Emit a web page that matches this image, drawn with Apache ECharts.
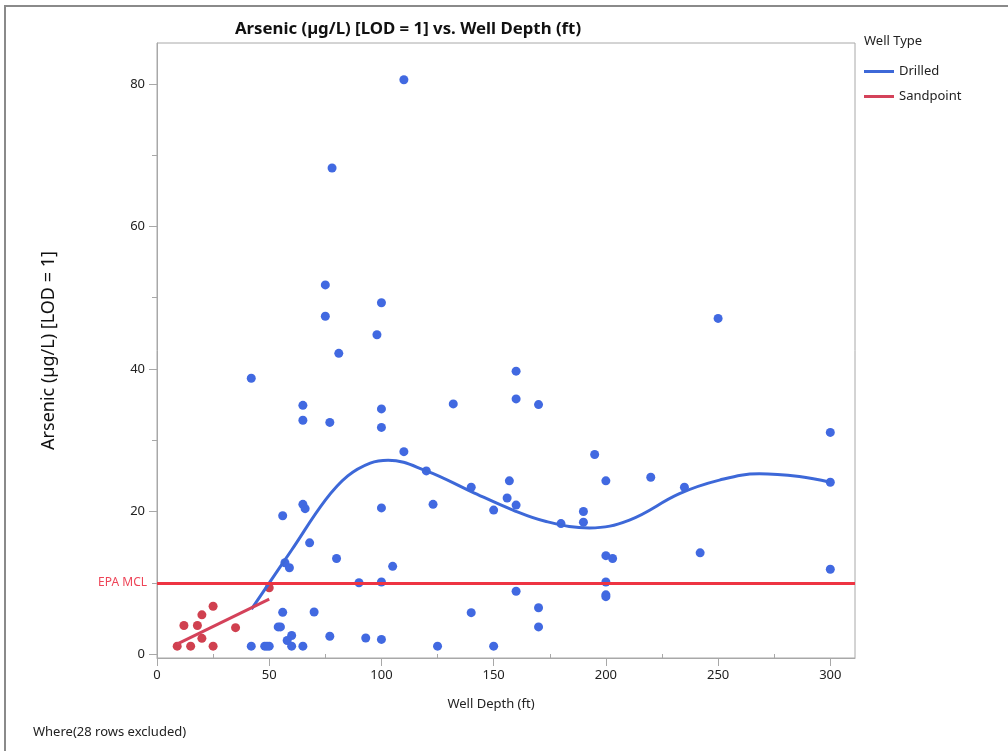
<!DOCTYPE html>
<html>
<head>
<meta charset="utf-8">
<script src="https://cdn.jsdelivr.net/npm/echarts@6/dist/echarts.min.js"></script>
<style>
  html, body { margin: 0; padding: 0; background: #fff; }
  #chart { width: 1008px; height: 751px; }
</style>
</head>
<body>
<div id="chart"></div>
<script>
// Drilled wells (blue points)
var drilledDepth = [110, 78, 75, 100, 75, 98, 81, 42, 65, 132,
  100, 65, 77, 100, 110, 120, 140, 65, 66, 100,
  123, 150, 56, 68, 80, 105, 57, 59, 90, 100,
  56, 70, 140, 54, 55, 60, 58, 77, 93, 100,
  42, 48, 49, 50, 60, 65, 125, 150,
  250, 160, 160, 170, 300, 195, 200, 220, 235, 300,
  157, 156, 160, 180, 190, 190, 200, 203, 242, 300,
  200, 200, 200, 160, 170, 170];
var drilledArsenic = [80.6, 68.2, 51.8, 49.3, 47.4, 44.8, 42.2, 38.7, 34.9, 35.1,
  34.4, 32.8, 32.5, 31.8, 28.4, 25.7, 23.4, 21.0, 20.4, 20.5,
  21.0, 20.2, 19.4, 15.6, 13.4, 12.3, 12.8, 12.1, 10.0, 10.1,
  5.85, 5.9, 5.8, 3.8, 3.8, 2.6, 1.9, 2.5, 2.25, 2.05,
  1.1, 1.1, 1.1, 1.1, 1.1, 1.1, 1.1, 1.1,
  47.1, 39.7, 35.8, 35.0, 31.1, 28.0, 24.3, 24.8, 23.4, 24.1,
  24.3, 21.9, 20.9, 18.3, 20.0, 18.5, 13.8, 13.4, 14.2, 11.9,
  10.1, 8.3, 8.05, 8.8, 6.5, 3.8];

// Sandpoint wells (red points)
var sandDepth = [9, 15, 25, 20, 12, 18, 20, 25, 35, 50];
var sandArsenic = [1.1, 1.1, 1.1, 2.2, 4.0, 4.0, 5.5, 6.7, 3.7, 9.3];

// smoother fits
var drilledFitX = [42.1, 60, 75, 85, 95, 103, 120, 140, 158.6, 173.4, 192.7, 210.5, 232.8, 250.6, 268.4, 286.2, 300];
var drilledFitY = [6.3, 14.6, 21.6, 25.0, 26.8, 27.2, 25.7, 22.8, 20.2, 18.6, 17.7, 18.8, 22.5, 24.4, 25.3, 24.9, 24.1];
var sandFitX = [8.9, 50];
var sandFitY = [1.4, 7.7];

// EPA limit
var mcl = 10;

var xMajor = [0, 50, 100, 150, 200, 250, 300];
var xMinor = [25, 75, 125, 175, 225, 275];
var yMajor = [0, 20, 40, 60, 80];
var yMinor = [10, 30, 50, 70];

var FONT = '"Noto Sans", sans-serif';
var BLUE = '#4169e1';
var RED = '#d0404f';

function pairs(xs, ys) {
  return xs.map(function (x, i) { return [x, ys[i]]; });
}

var xRange = { min: 0, max: 311 };
var yRange = { min: -0.56, max: 85.75 };

var myChart = echarts.init(document.getElementById('chart'));
var option = {
  backgroundColor: '#fff',
  animation: false,
  textStyle: { fontFamily: FONT },
  grid: {
    left: 157, right: 153, top: 43, bottom: 93,
    show: true, borderColor: '#a8a8a8', borderWidth: 1
  },
  legend: {
    orient: 'vertical',
    left: 864, top: 65, padding: 0,
    itemWidth: 30, itemHeight: 3, itemGap: 12,
    selectedMode: false,
    textStyle: { fontSize: 13, color: '#222', fontFamily: FONT },
    data: [{ name: 'Drilled', icon: 'rect' }, { name: 'Sandpoint', icon: 'rect' }]
  },
  xAxis: [{
    type: 'value', min: xRange.min, max: xRange.max,
    axisLine: { onZero: false, lineStyle: { color: '#a8a8a8' } },
    axisTick: { length: 8, lineStyle: { color: '#a8a8a8' }, customValues: xMajor },
    axisLabel: { customValues: xMajor, fontSize: 13, color: '#222', margin: 11 },
    splitLine: { show: false }
  }, {
    type: 'value', min: xRange.min, max: xRange.max, position: 'bottom',
    axisLine: { show: false },
    axisTick: { length: 5, lineStyle: { color: '#a8a8a8' }, customValues: xMinor },
    axisLabel: { show: false },
    splitLine: { show: false }
  }],
  yAxis: [{
    type: 'value', min: yRange.min, max: yRange.max,
    name: 'Arsenic (µg/L) [LOD = 1]',
    nameLocation: 'middle', nameGap: 99, nameRotate: 90,
    nameTextStyle: { fontSize: 18, color: '#111' },
    axisLine: { onZero: false, lineStyle: { color: '#a8a8a8' } },
    axisTick: { length: 8, lineStyle: { color: '#a8a8a8' }, customValues: yMajor },
    axisLabel: { customValues: yMajor, fontSize: 13, color: '#222', margin: 12 },
    splitLine: { show: false }
  }, {
    type: 'value', min: yRange.min, max: yRange.max, position: 'left',
    axisLine: { show: false },
    axisTick: { length: 5, lineStyle: { color: '#a8a8a8' }, customValues: yMinor },
    axisLabel: { show: false },
    splitLine: { show: false }
  }],
  graphic: [
    { type: 'rect', shape: { x: 5, y: 6, width: 1200, height: 900 },
      style: { fill: 'none', stroke: '#8a8a8a', lineWidth: 2 }, silent: true },
    { type: 'text', x: 408, y: 29,
      style: { text: 'Arsenic (µg/L) [LOD = 1] vs. Well Depth (ft)', align: 'center', verticalAlign: 'middle',
        fontSize: 16.8, fontWeight: 'bold', fontFamily: FONT, fill: '#111' } },
    { type: 'text', x: 864, y: 41,
      style: { text: 'Well Type', align: 'left', verticalAlign: 'middle',
        fontSize: 13, fontFamily: FONT, fill: '#222' } },
    { type: 'text', x: 491, y: 704,
      style: { text: 'Well Depth (ft)', align: 'center', verticalAlign: 'middle',
        fontSize: 13, fontFamily: FONT, fill: '#222' } },
    { type: 'text', x: 33, y: 732,
      style: { text: 'Where(28 rows excluded)', align: 'left', verticalAlign: 'middle',
        fontSize: 13, fontFamily: FONT, fill: '#222' } }
  ],
  series: [
    {
      name: 'Drilled points', type: 'scatter',
      symbolSize: 9, itemStyle: { color: BLUE, opacity: 1 },
      data: pairs(drilledDepth, drilledArsenic), z: 3
    },
    {
      name: 'Sandpoint points', type: 'scatter',
      symbolSize: 9, itemStyle: { color: RED, opacity: 1 },
      data: pairs(sandDepth, sandArsenic), z: 3,
      markLine: {
        silent: true, symbol: 'none',
        lineStyle: { color: '#ee3442', width: 3, type: 'solid' },
        label: { show: true, position: 'start', formatter: 'EPA MCL', color: '#ee4457',
          fontSize: 12, fontFamily: FONT, distance: 10 },
        data: [{ yAxis: mcl }]
      }
    },
    {
      name: 'Drilled', type: 'line', smooth: 0.4, showSymbol: false,
      lineStyle: { color: '#3d68d8', width: 3 }, itemStyle: { color: '#3d68d8' },
      data: pairs(drilledFitX, drilledFitY), z: 4
    },
    {
      name: 'Sandpoint', type: 'line', showSymbol: false,
      lineStyle: { color: '#d4425a', width: 3 }, itemStyle: { color: '#d4425a' },
      data: pairs(sandFitX, sandFitY), z: 4
    }
  ]
};
myChart.setOption(option);
</script>
</body>
</html>
